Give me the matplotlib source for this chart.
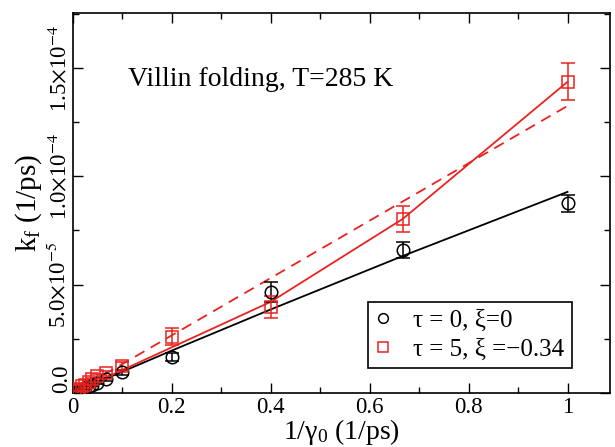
import numpy as np
import matplotlib
matplotlib.use('Agg')
import matplotlib.pyplot as plt
from matplotlib.lines import Line2D
from matplotlib.ticker import MultipleLocator, FixedLocator, FixedFormatter

plt.rcParams['font.family'] = ['Liberation Serif', 'DejaVu Serif']
plt.rcParams['mathtext.fontset'] = 'stix'

# data points (1/gamma0, k_f)
x_pts = [1.0, 0.667, 0.4, 0.2, 0.1, 0.0667, 0.05, 0.04, 0.0333, 0.025, 0.02, 0.0125, 0.01, 0.005]
k_tau0 = [8.75e-5, 6.6e-5, 4.66e-5, 1.66e-5, 0.95e-5, 0.62e-5, 0.48e-5, 0.38e-5, 0.3e-5,
          0.22e-5, 0.18e-5, 0.11e-5, 0.09e-5, 0.05e-5]
err_tau0 = [0.4e-5, 0.35e-5, 0.45e-5, 0.2e-5, 0.1e-5, 0.06e-5, 0.05e-5, 0.04e-5, 0.03e-5,
            0.02e-5, 0.02e-5, 0.01e-5, 0.01e-5, 0.01e-5]
k_tau5 = [1.436e-4, 8.03e-5, 3.97e-5, 2.59e-5, 1.25e-5, 0.9e-5, 0.78e-5, 0.62e-5, 0.5e-5,
          0.38e-5, 0.3e-5, 0.2e-5, 0.15e-5, 0.08e-5]
err_tau5 = [0.85e-5, 0.6e-5, 0.5e-5, 0.4e-5, 0.2e-5, 0.1e-5, 0.08e-5, 0.06e-5, 0.05e-5,
            0.04e-5, 0.03e-5, 0.02e-5, 0.02e-5, 0.01e-5]

# model curves
x_line = [0.0, 0.2, 0.4, 0.667, 1.0]
line_tau0 = [0.0, 1.95e-5, 3.85e-5, 6.32e-5, 9.28e-5]
line_tau5 = [0.0, 2.1e-5, 4.2e-5, 8.03e-5, 1.436e-4]
x_dash = [0.0, 1.0]
dash_tau5 = [0.0, 1.325e-4]

labels = ['\u03c4 = 0, \u03be=0', '\u03c4 = 5, \u03be =\u22120.34']
red = '#e8231f'

fig = plt.figure(figsize=(6.15, 4.47), dpi=100)
ax = fig.add_axes([0.118, 0.121, 0.874, 0.850])

ax.plot(x_line, line_tau0, color='black', lw=1.3)
ax.plot(x_line, line_tau5, color=red, lw=1.3)
ax.plot(x_dash, dash_tau5, color=red, lw=1.3, dashes=(6, 4))

ax.errorbar(x_pts, k_tau0, yerr=err_tau0, fmt='o', ms=9, mfc='none', mec='black',
            mew=1.1, ecolor='black', elinewidth=1.1, capsize=5, capthick=1.1, zorder=3)
ax.errorbar(x_pts, k_tau5, yerr=err_tau5, fmt='s', ms=9, mfc='none', mec=red,
            mew=1.1, ecolor=red, elinewidth=1.1, capsize=5, capthick=1.1, zorder=3)

ax.set_xlim(0, 1.086)
ax.set_ylim(0, 1.754e-4)

ax.xaxis.set_major_locator(FixedLocator([0, 0.2, 0.4, 0.6, 0.8, 1.0]))
ax.xaxis.set_major_formatter(FixedFormatter(['0', '0.2', '0.4', '0.6', '0.8', '1']))
ax.xaxis.set_minor_locator(MultipleLocator(0.1))
ax.yaxis.set_major_locator(FixedLocator([0, 5e-5, 1e-4, 1.5e-4]))
ax.yaxis.set_major_formatter(FixedFormatter(['0.0', r'5.0$\times$10$^{-5}$',
                                             r'1.0$\times$10$^{-4}$', r'1.5$\times$10$^{-4}$']))
ax.yaxis.set_minor_locator(MultipleLocator(2.5e-5))

ax.tick_params(which='both', direction='in', top=True, right=True, labelsize=16.5)
ax.tick_params(which='major', length=7, width=1.0)
ax.tick_params(which='minor', length=4, width=1.0)
ax.tick_params(axis='y', pad=0.5)
ax.tick_params(axis='x', pad=3)
ylabs = ax.get_yticklabels()
for lab in ylabs:
    lab.set_rotation(90)
    lab.set_va('center')
ylabs[0].set_va('bottom')

for sp in ax.spines.values():
    sp.set_linewidth(1.2)

ax.set_xlabel(r'1/$\mathregular{\gamma_0}$ (1/ps)', fontsize=20, labelpad=-1)
ax.set_ylabel(r'$\mathregular{k_f}$ (1/ps)', fontsize=21, labelpad=3)

ax.text(0.103, 0.824, 'Villin folding, T=285 K', transform=ax.transAxes,
        fontsize=20, va='center', ha='left')

handles = [Line2D([], [], ls='none', marker='o', ms=7, mfc='none', mec='black', mew=1.1),
           Line2D([], [], ls='none', marker='s', ms=7, mfc='none', mec=red, mew=1.1)]
leg = ax.legend(handles, labels, loc='lower right', bbox_to_anchor=(0.929, 0.066),
                fontsize=18, fancybox=False, edgecolor='black', framealpha=1,
                handlelength=0.6, handletextpad=0.9, borderpad=0.3, labelspacing=0.25,
                borderaxespad=0)
leg.get_frame().set_linewidth(1.2)

fig.savefig('out.png', dpi=100)
